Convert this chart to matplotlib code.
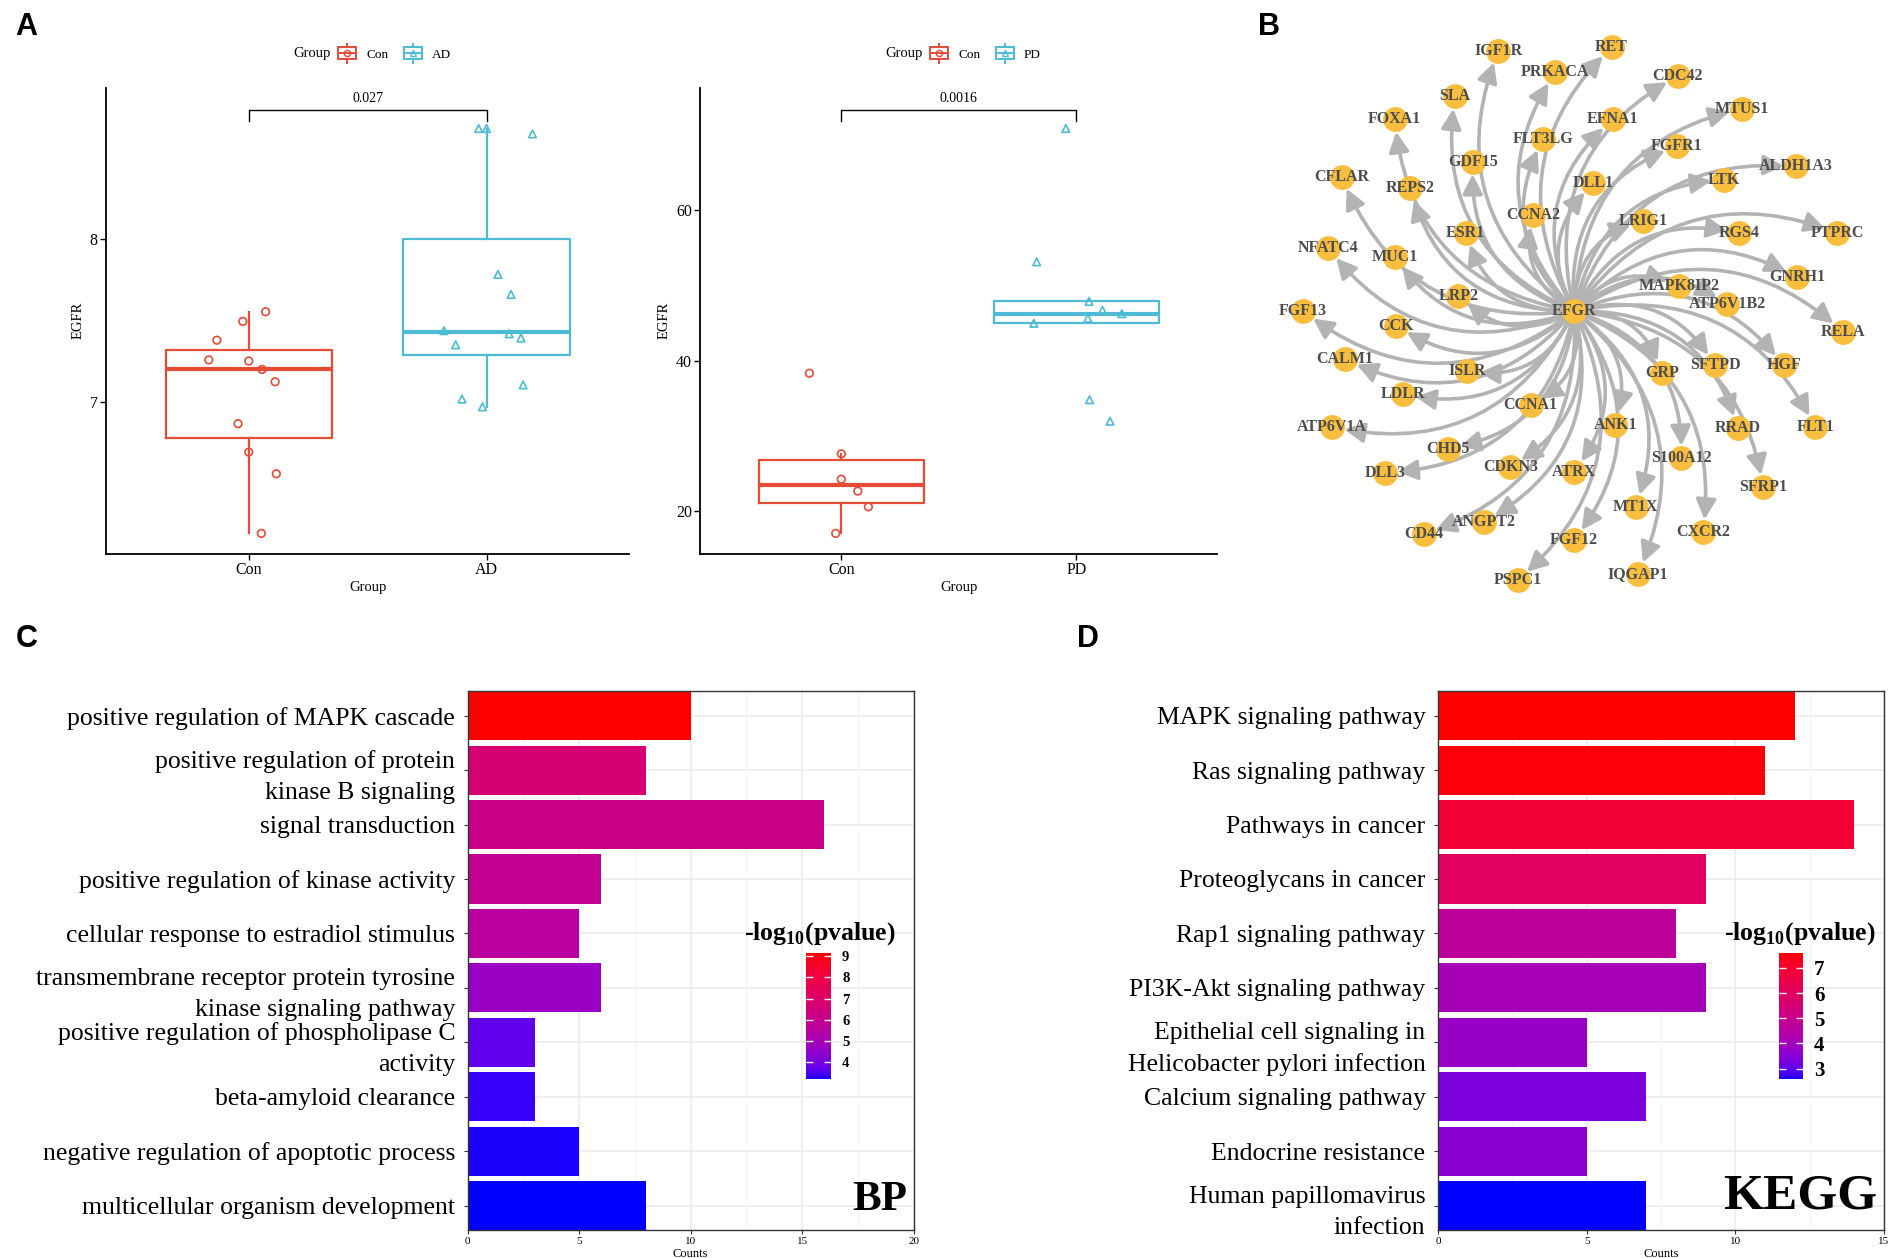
import numpy as np
import matplotlib
matplotlib.use("Agg")
import matplotlib.pyplot as plt
from matplotlib.colors import ListedColormap, Normalize
from matplotlib.patches import FancyArrowPatch, Rectangle
from matplotlib.lines import Line2D
from matplotlib.legend_handler import HandlerBase
from matplotlib.cm import ScalarMappable

plt.rcParams['font.family'] = ['Liberation Serif', 'DejaVu Serif']
plt.rcParams['mathtext.fontset'] = 'custom'
plt.rcParams['mathtext.rm'] = 'Liberation Serif'
plt.rcParams['mathtext.bf'] = 'Liberation Serif:bold'

# ---------------- data ----------------
# panel A, AD dataset
ad_con = [7.554, 7.495, 7.379, 7.258, 7.251, 7.199, 7.123, 6.865, 6.690, 6.557, 6.190]
ad_con_jit = [0.071, -0.025, -0.134, -0.168, 0.0, 0.056, 0.111, -0.045, 0.0, 0.116, 0.053]
ad_ad = [8.682, 8.682, 8.649, 7.784, 7.661, 7.438, 7.419, 7.393, 7.351, 7.104, 7.017, 6.969]
ad_ad_jit = [-0.033, 0.0, 0.193, 0.048, 0.103, -0.179, 0.095, 0.145, -0.130, 0.154, -0.103, -0.017]
ad_p = "0.027"
ad_ticks = [7, 8]

# panel A, PD dataset
pd_con = [38.31, 27.57, 24.19, 22.61, 20.51, 16.98]
pd_con_jit = [-0.136, 0.0, 0.0, 0.070, 0.115, -0.024]
pd_pd = [70.9, 53.15, 47.88, 46.70, 46.24, 45.63, 44.96, 34.78, 31.92]
pd_pd_jit = [-0.045, -0.169, 0.054, 0.111, 0.193, 0.049, -0.181, 0.056, 0.143]
pd_p = "0.0016"
pd_ticks = [20, 40, 60]

# panel B, network layout (layout units)
hub = "EFGR"
hub_xy = (1306, 258)
genes = ["IGF1R", "RET", "PRKACA", "CDC42", "SLA", "FOXA1", "EFNA1", "MTUS1", "FLT3LG",
         "GDF15", "FGFR1", "CFLAR", "REPS2", "DLL1", "ALDH1A3", "LTK", "CCNA2", "ESR1",
         "LRIG1", "RGS4", "PTPRC", "NFATC4", "MUC1", "MAPK8IP2", "GNRH1", "ATP6V1B2",
         "LRP2", "FGF13", "CCK", "RELA", "CALM1", "ISLR", "GRP", "SFTPD", "HGF", "LDLR",
         "CCNA1", "ATP6V1A", "ANK1", "RRAD", "FLT1", "CHD5", "CDKN3", "ATRX", "S100A12",
         "DLL3", "SFRP1", "MT1X", "CD44", "ANGPT2", "CXCR2", "FGF12", "IQGAP1", "PSPC1"]
gene_x = [1243, 1337, 1290, 1392, 1207, 1157, 1338, 1445, 1280,
          1222, 1391, 1113, 1170, 1322, 1490, 1430, 1272, 1216,
          1363, 1443, 1524, 1102, 1157, 1393, 1491, 1433,
          1210, 1081, 1158, 1529, 1116, 1217, 1379, 1423, 1480, 1164,
          1270, 1105, 1340, 1442, 1506, 1201, 1253, 1306, 1395,
          1149, 1463, 1357, 1181, 1231, 1413, 1306, 1359, 1259]
gene_y = [42, 39, 60, 63, 80, 99, 99, 90, 115,
          134, 121, 147, 156, 152, 138, 149, 178, 193,
          183, 193, 193, 206, 213, 237, 230, 252,
          245, 258, 270, 275, 298, 308, 309, 303, 303, 327,
          336, 354, 352, 355, 354, 372, 387, 391, 380,
          392, 404, 420, 443, 433, 441, 448, 476, 481]

# panel C, GO BP
bp_terms = ["positive regulation of MAPK cascade",
            "positive regulation of protein\nkinase B signaling",
            "signal transduction",
            "positive regulation of kinase activity",
            "cellular response to estradiol stimulus",
            "transmembrane receptor protein tyrosine\nkinase signaling pathway",
            "positive regulation of phospholipase C\nactivity",
            "beta-amyloid clearance",
            "negative regulation of apoptotic process",
            "multicellular organism development"]
bp_counts = [10, 8, 16, 6, 5, 6, 3, 3, 5, 8]
bp_logp = [9.15, 6.7, 6.2, 5.9, 5.6, 4.7, 3.75, 3.4, 3.28, 3.22]
bp_cticks = [4, 5, 6, 7, 8, 9]

# panel D, KEGG
kegg_terms = ["MAPK signaling pathway",
              "Ras signaling pathway",
              "Pathways in cancer",
              "Proteoglycans in cancer",
              "Rap1 signaling pathway",
              "PI3K-Akt signaling pathway",
              "Epithelial cell signaling in\nHelicobacter pylori infection",
              "Calcium signaling pathway",
              "Endocrine resistance",
              "Human papillomavirus\ninfection"]
kegg_counts = [12, 11, 14, 9, 8, 9, 5, 7, 5, 7]
kegg_logp = [7.59, 7.5, 6.9, 6.0, 4.7, 4.1, 3.8, 3.35, 3.55, 2.59]
kegg_cticks = [3, 4, 5, 6, 7]

RED = "#E64B35"
CYAN = "#4DBBD5"


# ---------------- colour gradient (blue -> red in Lab, like ggplot) ----------------
M = np.array([[0.4124564, 0.3575761, 0.1804375],
              [0.2126729, 0.7151522, 0.0721750],
              [0.0193339, 0.1191920, 0.9503041]])
WP = np.array([0.95047, 1.0, 1.08883])


def to_lab(rgb):
    rgb = np.asarray(rgb, float)
    lin = np.where(rgb <= 0.04045, rgb / 12.92, ((rgb + 0.055) / 1.055) ** 2.4)
    t = (M @ lin) / WP
    f = np.where(t > (6 / 29) ** 3, np.cbrt(t), t / (3 * (6 / 29) ** 2) + 4 / 29)
    return np.array([116 * f[1] - 16, 500 * (f[0] - f[1]), 200 * (f[1] - f[2])])


def from_lab(lab):
    fy = (lab[0] + 16) / 116
    f = np.array([fy + lab[1] / 500, fy, fy - lab[2] / 200])
    t = np.where(f > 6 / 29, f ** 3, 3 * (6 / 29) ** 2 * (f - 4 / 29))
    lin = np.clip(np.linalg.solve(M, t * WP), 0, 1)
    rgb = np.where(lin <= 0.0031308, 12.92 * lin, 1.055 * lin ** (1 / 2.4) - 0.055)
    return np.clip(rgb, 0, 1)


lab_lo = to_lab([0, 0, 1])
lab_hi = to_lab([1, 0, 0])
grad = ListedColormap([from_lab(lab_lo + (lab_hi - lab_lo) * s) for s in np.linspace(0, 1, 256)])


class BoxKey(HandlerBase):
    def create_artists(self, legend, h, xd, yd, w, hg, fs, trans):
        c = h.get_color()
        cx = -xd + w / 2
        cy = -yd + hg / 2
        bw, bh = w * 0.8, hg * 0.75
        v = Line2D([cx, cx], [cy - hg * 0.62, cy + hg * 0.62], color=c, lw=1.4, transform=trans)
        r = Rectangle((cx - bw / 2, cy - bh / 2), bw, bh, fc="white", ec=c, lw=1.4, transform=trans)
        m = Line2D([cx - bw / 2, cx + bw / 2], [cy, cy], color=c, lw=1.4, transform=trans)
        p = Line2D([cx], [cy], marker=h.get_marker(), ms=4.5, mfc="none", mec=c, mew=1.0,
                   transform=trans)
        return [v, r, m, p]


fig = plt.figure(figsize=(18.9, 12.58), dpi=100)
W, H = 1568.0, 1043.0


def box_panel(rect, con, con_jit, grp, grp_jit, grp_name, ticks, pval):
    ax = fig.add_axes(rect)
    for pos, vals, jit, col, mk in [(1, con, con_jit, RED, "o"), (2, grp, grp_jit, CYAN, "^")]:
        ax.boxplot([vals], positions=[pos], widths=0.7, showfliers=False, showcaps=False,
                   boxprops=dict(color=col, lw=1.6), whiskerprops=dict(color=col, lw=1.6),
                   medianprops=dict(color=col, lw=3.0))
        ax.scatter(pos + np.array(jit), vals, marker=mk, s=30, facecolors="none",
                   edgecolors=col, linewidths=1.2, zorder=3)
    allv = np.array(con + grp)
    lo, hi = allv.min(), allv.max()
    r = hi - lo
    yb, yt = hi + 0.047 * r, hi + 0.018 * r
    ax.plot([1, 1, 2, 2], [yt, yb, yb, yt], color="black", lw=1.0)
    ax.text(1.5, yb + 0.01 * r, pval, ha="center", va="bottom", fontsize=10)
    ax.set_xlim(0.4, 2.6)
    ax.set_ylim(lo - 0.05 * r, hi + 0.1 * r)
    ax.set_xticks([1, 2])
    ax.set_xticklabels(["Con", grp_name], fontsize=11.5)
    ax.set_yticks(ticks)
    ax.set_yticklabels([str(t) for t in ticks], fontsize=11.5)
    ax.spines[["top", "right"]].set_visible(False)
    for s in ["left", "bottom"]:
        ax.spines[s].set_linewidth(1.3)
    ax.tick_params(length=4, width=1.0, pad=2)
    ax.set_ylabel("EGFR", fontsize=10.5, labelpad=4)
    ax.set_xlabel("Group", fontsize=10.5, labelpad=2)
    hs = [Line2D([], [], color=RED, marker="o"), Line2D([], [], color=CYAN, marker="^")]
    ax.legend(hs, ["Con", grp_name], handler_map={Line2D: BoxKey()}, ncol=2, frameon=False,
              loc="center left", bbox_to_anchor=(0.44, 1.075), fontsize=9.5, handlelength=1.7,
              handleheight=1.4, handletextpad=0.6, columnspacing=1.0, borderpad=0, borderaxespad=0)
    ax.text(0.43, 1.075, "Group", transform=ax.transAxes, ha="right", va="center", fontsize=10.5)
    return ax


box_panel([88 / W, 1 - 459 / H, 434 / W, 386 / H], ad_con, ad_con_jit, ad_ad, ad_ad_jit,
          "AD", ad_ticks, ad_p)
box_panel([581 / W, 1 - 459 / H, 429 / W, 386 / H], pd_con, pd_con_jit, pd_pd, pd_pd_jit,
          "PD", pd_ticks, pd_p)

# ---------------- network ----------------
axn = fig.add_axes([1060 / W, 1 - 500 / H, 508 / W, 500 / H])
axn.set_xlim(1060, 1568)
axn.set_ylim(500, 0)
axn.axis("off")
for gx, gy in zip(gene_x, gene_y):
    arr = FancyArrowPatch(hub_xy, (gx, gy), connectionstyle="arc3,rad=-0.38",
                          arrowstyle="-|>,head_length=0.75,head_width=0.38", mutation_scale=16,
                          color="#B3B3B3", lw=2.6, shrinkA=4, shrinkB=9, zorder=1)
    axn.add_patch(arr)
axn.scatter(gene_x + [hub_xy[0]], gene_y + [hub_xy[1]], s=320, color="#F9BE3E", zorder=2,
            linewidths=0)
for g, gx, gy in zip(genes + [hub], gene_x + [hub_xy[0]], gene_y + [hub_xy[1]]):
    axn.text(gx, gy, g, ha="center", va="center", fontsize=11.5, fontweight="bold",
             color="#4D4D4D", zorder=3)


# ---------------- enrichment bars ----------------
def bar_panel(rect, terms, counts, logp, xmax, xticks, cticks, cb_rect, title_xy, tag, tagsize,
              cfs):
    ax = fig.add_axes(rect)
    n = len(terms)
    ypos = np.arange(n, 0, -1)
    norm = Normalize(min(logp), max(logp))
    ax.barh(ypos, counts, height=0.9, color=grad(norm(np.array(logp))), zorder=2)
    ax.set_xlim(0, xmax)
    ax.set_ylim(0.55, n + 0.45)
    ax.set_xticks(xticks)
    ax.set_xticks(np.arange(2.5, xmax, 5), minor=True)
    ax.set_xticklabels([str(t) for t in xticks], fontsize=8)
    ax.set_yticks(ypos)
    ax.set_yticklabels(terms, fontsize=18.5, linespacing=1.5)
    ax.grid(True, which="major", color="#EBEBEB", lw=1.1, zorder=0)
    ax.grid(True, which="minor", axis="x", color="#F3F3F3", lw=0.7, zorder=0)
    ax.set_axisbelow(True)
    for s in ax.spines.values():
        s.set_color("#333333")
        s.set_linewidth(1.0)
    ax.tick_params(axis="both", which="major", length=3, color="#333333", pad=2)
    ax.tick_params(axis="x", which="minor", length=0)
    ax.tick_params(axis="y", pad=6)
    ax.set_xlabel("Counts", fontsize=9, labelpad=1)
    ax.text(0.985, 0.02, tag, transform=ax.transAxes, ha="right", va="bottom",
            fontsize=tagsize, fontweight="bold")
    cax = fig.add_axes(cb_rect)
    cb = fig.colorbar(ScalarMappable(norm=norm, cmap=grad), cax=cax)
    cb.outline.set_visible(False)
    cb.set_ticks(cticks)
    cb.set_ticklabels([str(t) for t in cticks])
    cax.tick_params(left=True, right=True, labelleft=False, labelright=True, direction="in",
                    color="white", length=5, width=1.0, labelsize=cfs, pad=8)
    for t in cax.get_yticklabels():
        t.set_fontweight("bold")
    fig.text(title_xy[0], title_xy[1], r"-log$_{\mathbf{10}}$(pvalue)", ha="center", va="center",
             fontsize=18.5, fontweight="bold")


bar_panel([388 / W, 1 - 1020 / H, 370 / W, 447 / H], bp_terms, bp_counts, bp_logp, 20,
          [0, 5, 10, 15, 20], bp_cticks, [806 / 1890, 1 - 1079 / 1258, 25 / 1890, 126 / 1258],
          (820 / 1890, 1 - 934 / 1258), "BP", 31, 10.5)
bar_panel([1193 / W, 1 - 1020 / H, 370 / W, 447 / H], kegg_terms, kegg_counts, kegg_logp, 15,
          [0, 5, 10, 15], kegg_cticks, [1779 / 1890, 1 - 1079 / 1258, 24 / 1890, 126 / 1258],
          (1800 / 1890, 1 - 934 / 1258), "KEGG", 37, 15)

# panel letters
for lab, x, y in [("A", 22, 22), ("B", 1053, 22), ("C", 22, 530), ("D", 903, 530)]:
    fig.text(x / W, 1 - y / H, lab, ha="center", va="center", fontsize=22, fontweight="bold",
             family=["Liberation Sans", "DejaVu Sans"])

fig.savefig("out.png", dpi=100)
